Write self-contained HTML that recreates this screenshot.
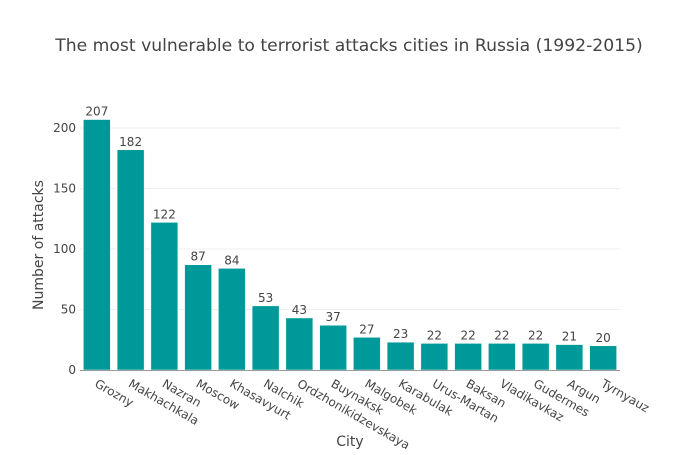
<!DOCTYPE html>
<html><head><meta charset="utf-8"><style>
body{margin:0;background:#fff}
svg{font-family:"DejaVu Sans","Liberation Sans",sans-serif}
</style></head><body>
<svg id="chart" width="700" height="450" viewBox="0 0 700 450">
<rect width="700" height="450" fill="#fff"/>
<text x="349" y="51" text-anchor="middle" font-size="17.2" fill="#444">The most vulnerable to terrorist attacks cities in Russia (1992-2015)</text>
<g id="grid"></g><g id="bars"></g><g id="labels"></g><g id="xticks"></g><g id="yticks"></g>
<line x1="80" x2="620" y1="370.5" y2="370.5" stroke="#999" stroke-width="1"/>
<text x="350" y="446" text-anchor="middle" font-size="14" fill="#444">City</text>
<text transform="translate(43,245) rotate(-90)" text-anchor="middle" font-size="14" fill="#444">Number of attacks</text>
</svg>
<script>
const cities=["Grozny","Makhachkala","Nazran","Moscow","Khasavyurt","Nalchik","Ordzhonikidzevskaya","Buynaksk","Malgobek","Karabulak","Urus-Martan","Baksan","Vladikavkaz","Gudermes","Argun","Tyrnyauz"];
const attacks=[207,182,122,87,84,53,43,37,27,23,22,22,22,22,21,20];
const yTicks=[0,50,100,150,200];
const NS="http://www.w3.org/2000/svg";
const x0=80,x1=620,yBase=370,yScale=1.21;
const band=(x1-x0)/cities.length;
const xPos=i=>x0+band*i;
const yPos=v=>yBase-v*yScale;
function mk(tag,attrs,parent){const e=document.createElementNS(NS,tag);for(const k in attrs)e.setAttribute(k,attrs[k]);document.getElementById(parent).appendChild(e);return e;}
yTicks.forEach(t=>{
  if(t>0){const g=mk('line',{x1:x0,x2:x1,y1:yPos(t),y2:yPos(t),stroke:'#eee','stroke-width':1},'grid');
  
  }
  const tx=mk('text',{x:x0-4,y:yPos(t)+4,'text-anchor':'end','font-size':12,fill:'#444'},'yticks');
  tx.textContent=t;
  
  
});
cities.forEach((c,i)=>{
  const w=band*0.8,bx=xPos(i)+band*0.1,v=attacks[i];
  const r=mk('rect',{x:bx,y:yPos(v),width:w,height:v*yScale,fill:'#009999',stroke:'#fff','stroke-width':0.5},'bars');
  
  
  const l=mk('text',{x:xPos(i)+band/2,y:yPos(v)-4,'text-anchor':'middle','font-size':12,fill:'#444'},'labels');
  l.textContent=v;
  
  
  const cx=xPos(i)+band/2-3;
  const t=mk('text',{x:cx,y:386,'text-anchor':'start','font-size':12,fill:'#444',transform:`rotate(30 ${cx} 386)`},'xticks');
  t.textContent=c;
  
  
});
</script>
</body></html>
